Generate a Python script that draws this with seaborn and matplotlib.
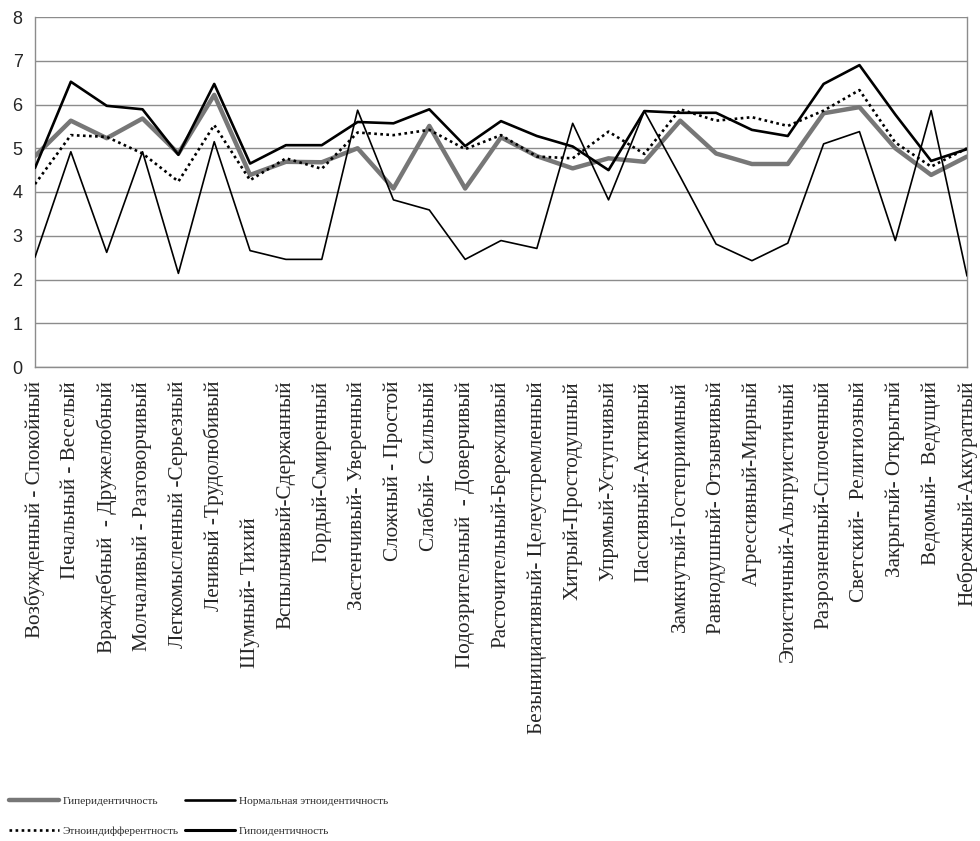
import numpy as np
import pandas as pd
import seaborn as sns
import matplotlib
import matplotlib.pyplot as plt

matplotlib.use('Agg')

# categories (x axis)
categories = ['Возбужденный - Спокойный', 'Печальный - Веселый', 'Враждебный  - Дружелюбный',
              'Молчаливый - Разговорчивый', 'Легкомысленный -Серьезный', 'Ленивый -Трудолюбивый',
              'Шумный- Тихий' + ' ' * 26, 'Вспыльчивый-Сдержанный', 'Гордый-Смиренный',
              'Застенчивый- Уверенный', 'Сложный - Простой', 'Слабый-  Сильный',
              'Подозрительный  - Доверчивый', 'Расточительный-Бережливый',
              'Безынициативный- Целеустремленный', 'Хитрый-Простодушный', 'Упрямый-Уступчивый',
              'Пассивный-Активный', 'Замкнутый-Гостеприимный', 'Равнодушный- Отзывчивый',
              'Агрессивный-Мирный', 'Эгоистичный-Альтруистичный', 'Разрозненный-Сплоченный',
              'Светский-  Религиозный', 'Закрытый- Открытый', 'Ведомый-  Ведущий',
              'Небрежный-Аккуратный']

# series values
hyper = [4.82, 5.63, 5.23, 5.68, 4.88, 6.22, 4.39, 4.69, 4.68, 5.0, 4.08, 5.51, 4.08, 5.25,
         4.82, 4.54, 4.77, 4.69, 5.63, 4.88, 4.64, 4.64, 5.8, 5.94, 5.0, 4.39, 4.81]
normal = [4.55, 6.52, 5.97, 5.89, 4.85, 6.47, 4.65, 5.07, 5.07, 5.6, 5.57, 5.89, 5.05, 5.62,
          5.28, 5.04, 4.5, 5.85, 5.81, 5.81, 5.42, 5.28, 6.47, 6.9, 5.77, 4.71, 4.98]
indiff = [4.18, 5.3, 5.26, 4.88, 4.24, 5.53, 4.27, 4.77, 4.53, 5.36, 5.3, 5.42, 4.98, 5.3,
          4.81, 4.77, 5.38, 4.87, 5.89, 5.63, 5.71, 5.51, 5.86, 6.33, 5.13, 4.58, 5.0]
hypo = [2.51, 4.92, 2.62, 4.92, 2.14, 5.15, 2.66, 2.46, 2.46, 5.87, 3.82, 3.59, 2.46, 2.89,
        2.71, 5.57, 3.82, 5.85, 4.35, 2.81, 2.43, 2.83, 5.1, 5.38, 2.89, 5.86, 2.08]

series_names = ['Гиперидентичность', 'Нормальная этноидентичность',
                'Этноиндифферентность', 'Гипоидентичность']

sns.set_style('white')
plt.rcParams['font.family'] = ['Liberation Sans', 'DejaVu Sans']

fig = plt.figure(figsize=(9.8, 8.41), dpi=100)
ax = fig.add_axes([35/980, 1-367/841, (967-35)/980, (367-17)/841])

x = np.arange(len(categories))
df = pd.DataFrame({'x': x, 'hyper': hyper, 'normal': normal, 'indiff': indiff, 'hypo': hypo})

sns.lineplot(data=df, x='x', y='hyper', ax=ax, color='#777777', linewidth=3.2,
             label=series_names[0], zorder=3)
sns.lineplot(data=df, x='x', y='normal', ax=ax, color='black', linewidth=1.9,
             label=series_names[1], zorder=4)
sns.lineplot(data=df, x='x', y='indiff', ax=ax, color='black', linewidth=1.9,
             linestyle=(0, (1, 1.3)), label=series_names[2], zorder=4)
sns.lineplot(data=df, x='x', y='hypo', ax=ax, color='black', linewidth=1.2,
             label=series_names[3], zorder=5)

ax.set_xlim(0, len(categories) - 1)
ax.set_ylim(0, 8)
ax.set_yticks(range(0, 9))
ax.set_xticks(x)
ax.set_xticklabels(categories, rotation=90, family='Liberation Serif', fontsize=15.2)
ax.tick_params(axis='y', labelsize=13, length=7, color='#8c8c8c', pad=2)
ax.tick_params(axis='x', length=6, color='#8c8c8c', pad=4)
ax.set_xlabel('')
ax.set_ylabel('')
ax.grid(axis='y', color='#8c8c8c', linewidth=1)
ax.set_axisbelow(True)
for s in ['left', 'right', 'bottom']:
    ax.spines[s].set_color('#8c8c8c')
    ax.spines[s].set_linewidth(1)
ax.spines['top'].set_visible(False)

handles, labels = ax.get_legend_handles_labels()
# row-major order as in the original: hyper, normal / indiff, hypo
order = [0, 2, 1, 3]
leg = ax.legend([handles[i] for i in order], [labels[i] for i in order],
                loc='upper left', ncol=2, frameon=False,
                bbox_to_anchor=(3/980, 1-790/841), bbox_transform=fig.transFigure,
                prop={'family': 'Liberation Serif', 'size': 8.2},
                borderpad=0, handlelength=4.4, handletextpad=0.35,
                columnspacing=0.5, labelspacing=1.8)
# hypo handle drawn thick as in original legend
leg.get_lines()[3].set_linewidth(2.2)

fig.savefig('out.png', dpi=100)
